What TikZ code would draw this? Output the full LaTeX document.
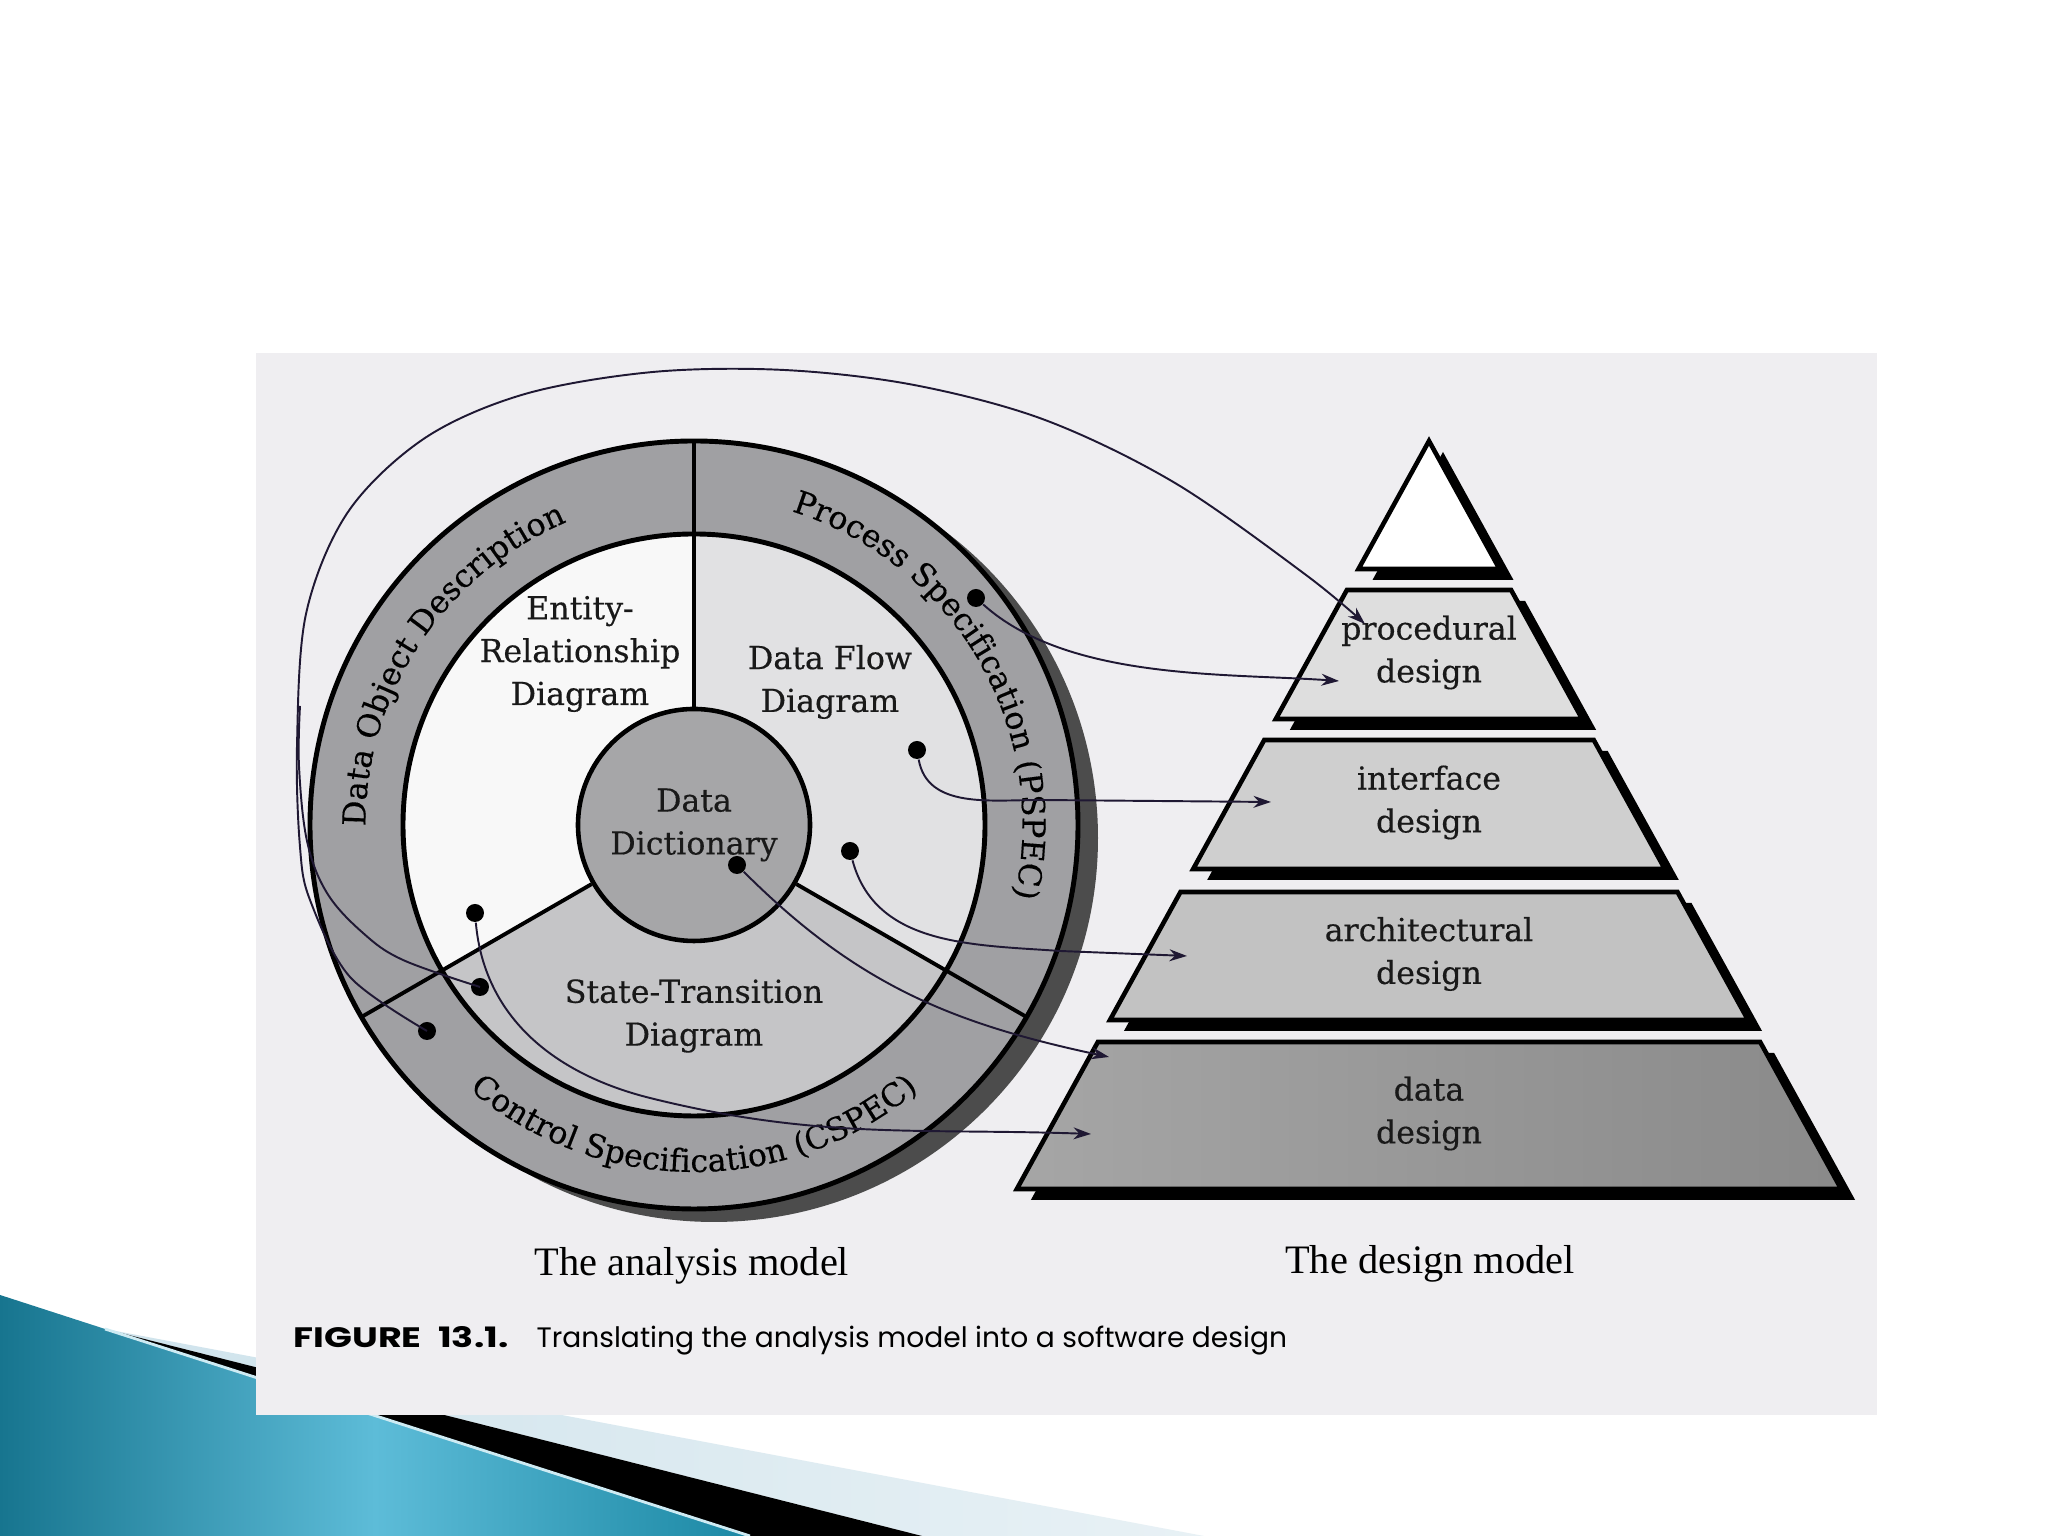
\documentclass[tikz,border=0pt]{standalone}
\usepackage{fontspec}
\setmainfont{DejaVu Serif}
\newfontfamily\schfont{DejaVu Serif}[FakeBold=0.35]
\newfontfamily\capserif{Liberation Serif}
\newfontfamily\capsans{Poppins}
\usepackage{tikz}
\usetikzlibrary{arrows.meta,calc,decorations.text,positioning,shadings}
\definecolor{panelbg}{HTML}{EFEEF1}
\definecolor{ringgray}{HTML}{A0A0A3}
\definecolor{ergray}{HTML}{F8F8F8}
\definecolor{dfdgray}{HTML}{E1E1E3}
\definecolor{stdgray}{HTML}{C5C5C7}
\definecolor{ddgray}{HTML}{A6A6A8}
\definecolor{linkcol}{HTML}{1F1833}
\definecolor{tealA}{HTML}{17758F}
\definecolor{tealB}{HTML}{5DBCD8}
\definecolor{tealC}{HTML}{1B88A4}
\definecolor{paleA}{HTML}{CFE3EC}
\definecolor{paleB}{HTML}{E8F1F5}
\newcommand{\lblfont}{\schfont\fontsize{9}{12.2}\selectfont}
\newcommand{\ringfont}{\schfont\fontsize{9}{11}\selectfont}
\tikzset{%
	lbl/.style        = {align=center, font=\lblfont, text=black!90},
	dot/.style        = {circle, fill=black, inner sep=0pt, minimum size=1.8mm},
	link/.style       = {draw=linkcol, line width=0.55pt, -{Stealth[length=5pt,width=3.4pt]}},
	band/.style       = {draw=black, line width=1.3pt},
	bandshadow/.style = {fill=black, xshift=1.4mm, yshift=-1.1mm},
	procband/.style   = {fill=black!13},
	intfband/.style   = {fill=black!19},
	archband/.style   = {fill=black!24},
	databand/.style   = {left color=black!35, right color=black!46},
	ringtext/.style   = {decorate, decoration={text along path, text align=center, text={#1}}},
}
\begin{document}
\begin{tikzpicture}
	\useasboundingbox (0,0) rectangle (20.48,15.36);
	\fill[white] (0,0) rectangle (20.48,15.36);
	% slide corner
	\shade[left color=paleA, right color=paleB] (1.05,2.07) -- (12.04,0) -- (9.22,0) -- cycle;
	\fill[black] (1.05,2.07) -- (9.22,0) -- (7.50,0) -- cycle;
	\shade[left color=tealA, right color=tealC, middle color=tealB] (0,2.41) -- (1.05,2.07) -- (7.50,0) -- (0,0) -- cycle;
	\draw[white!70!tealB, line width=0.8pt] (1.05,2.07) -- (7.50,0);
	% scanned figure
	\fill[panelbg] (2.56,1.21) rectangle (18.77,11.83);
	% analysis model
	\coordinate (C) at (6.94,7.11);
	\fill[black!70] ($(C)+(0.2,-0.13)$) circle[radius=3.84];
	\fill[ringgray] (C) circle[radius=3.84];
	\fill[ergray] (C) -- ++(90:2.91) arc[start angle=90, end angle=210, radius=2.91] -- cycle;
	\fill[stdgray] (C) -- ++(210:2.91) arc[start angle=210, end angle=330, radius=2.91] -- cycle;
	\fill[dfdgray] (C) -- ++(-30:2.91) arc[start angle=-30, end angle=90, radius=2.91] -- cycle;
	\draw[line width=1.4pt] (C) circle[radius=3.84];
	\draw[line width=1.4pt] (C) circle[radius=2.91];
	\node[lbl, circle, draw, line width=1.3pt, fill=ddgray, minimum size=2.32cm] (dd) at (C) {Data\\Dictionary};
	\foreach \a in {90,210,330}
		\draw[line width=1.1pt] (dd.\a) -- ($(C)+(\a:3.84)$);
	\node[lbl] (erd) at (5.80,8.82) {Entity-\\Relationship\\Diagram};
	\node[lbl] (dfd) at (8.30,8.54) {Data Flow\\Diagram};
	\node[lbl] (std) at (6.94,5.20) {State-Transition\\Diagram};
	\path[ringtext={|\ringfont|Data Object Description}] ($(C)+(191.5:3.285)$) arc[start angle=191.5, end angle=101.5, radius=3.285];
	\path[ringtext={|\ringfont|Process Specification (PSPEC)}] ($(C)+(80:3.285)$) arc[start angle=80, end angle=-20, radius=3.285];
	\path[ringtext={|\ringfont|Control Specification (CSPEC)}] ($(C)+(218:3.47)$) arc[start angle=218, end angle=322, radius=3.47];
	% design model
	\fill[bandshadow] (14.29,10.95) -- (14.995,9.67) -- (13.585,9.67) -- cycle;
	\draw[band, fill=white] (14.29,10.95) -- (14.995,9.67) -- (13.585,9.67) -- cycle;
	\foreach \yt/\yb/\sty/\nm/\txt in {
		9.46/8.17/procband/proc/{procedural\\design},
		7.96/6.67/intfband/intf/{interface\\design},
		6.44/5.16/archband/arch/{architectural\\design},
		4.94/3.47/databand/data/{data\\design}}{
		\fill[bandshadow] ({14.29-0.551*(10.95-\yt)},\yt) -- ({14.29+0.551*(10.95-\yt)},\yt) -- ({14.29+0.551*(10.95-\yb)},\yb) -- ({14.29-0.551*(10.95-\yb)},\yb) -- cycle;
		\draw[band, \sty] ({14.29-0.551*(10.95-\yt)},\yt) -- ({14.29+0.551*(10.95-\yt)},\yt) -- ({14.29+0.551*(10.95-\yb)},\yb) -- ({14.29-0.551*(10.95-\yb)},\yb) -- cycle;
		\node[lbl] (\nm) at (14.29,{(\yt+\yb)/2+0.02}) {\txt};
	}
	% links
	\node[dot] (dpspec) at (9.76,9.38) {};
	\node[dot] (ddfda)  at (9.17,7.86) {};
	\node[dot] (ddfdb)  at (8.50,6.85) {};
	\node[dot] (ddict)  at (7.37,6.71) {};
	\node[dot] (derd)   at (4.75,6.23) {};
	\node[dot] (dstd)   at (4.80,5.49) {};
	\node[dot] (dcspec) at (4.27,5.05) {};
	\coordinate (procina) at (13.65,9.12);
	\coordinate (procinb) at (13.39,8.55);
	\coordinate (intfin)  at (12.71,7.34);
	\coordinate (archin)  at (11.87,5.80);
	\coordinate (datains) at (11.09,4.79);
	\coordinate (datainb) at (10.91,4.02);
	\draw[link] (dpspec) to[out=-42, in=176, looseness=0.8] (procinb);
	\draw[link] (ddfda) to[out=-80, in=180] (10.4,7.36) -- (intfin);
	\draw[link] (ddfdb) to[out=-75, in=176] (10.6,5.85) -- (archin);
	\draw[link] (ddict) to[out=-45, in=168] (datains);
	\draw[link] (derd) to[out=-85, in=166] (6.5,4.38) to[out=-14, in=178] (datainb);
	\draw[link] plot[smooth, tension=0.55] coordinates {(dcspec) (3.50,5.59) (3.10,6.36) (3.00,6.89) (2.97,7.9) (3.06,9.22) (3.48,10.24) (4.25,10.98) (5.25,11.42) (6.53,11.64) (7.84,11.66) (9.14,11.51) (10.45,11.16) (11.75,10.53) (13.06,9.61) (procina)};
	\draw[linkcol, line width=0.55pt] plot[smooth, tension=0.6] coordinates {(dstd) (4.03,5.76) (3.63,6.03) (3.27,6.43) (3.07,6.95) (2.99,7.7) (3.00,8.3)};
	% captions
	\node[font=\capserif\fontsize{11.5}{13}\selectfont] (anacap) at (6.92,2.70) {The analysis model};
	\node[font=\capserif\fontsize{11.5}{13}\selectfont] (descap) at (14.30,2.72) {The design model};
	\node[anchor=base west, inner sep=0pt, font=\capsans\bfseries\fontsize{8}{10}\selectfont] (figno) at (2.93,1.88) {\scalebox{1.3}[1]{FIGURE\hspace{0.45em}13.1.}};
	\node[anchor=base west, inner sep=0pt, font=\capsans\fontsize{8}{10}\selectfont] (figtxt) at (5.36,1.88) {Translating the analysis model into a software design};
\end{tikzpicture}
\end{document}
